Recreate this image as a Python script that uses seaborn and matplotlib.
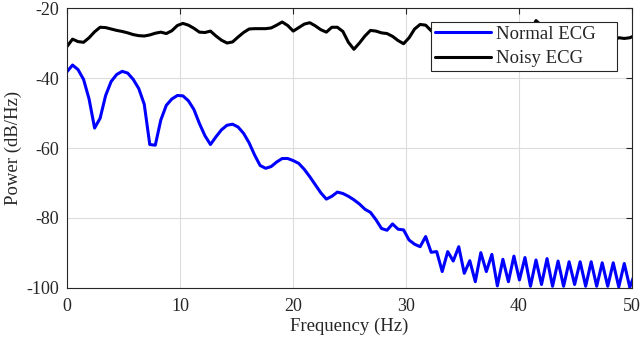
import numpy as np
import pandas as pd
import matplotlib
matplotlib.use("Agg")
import matplotlib.pyplot as plt
import seaborn as sns

# frequency bins (fs = 250 Hz, nfft = 512)
fs = 250
nfft = 512
n_bins = 104

# PSD of the clean ECG (dB/Hz), one value per bin
normal_ecg = [
    -38.2, -36.3, -37.6, -40.4, -46.0, -54.3, -51.5, -45.0, -41.0, -39.0,
    -38.1, -38.6, -40.4, -43.0, -47.5, -59.0, -59.2, -52.0, -47.8, -46.0,
    -45.0, -45.1, -46.5, -49.0, -53.0, -56.5, -59.0, -56.8, -54.8, -53.5,
    -53.2, -54.0, -55.8, -58.5, -62.0, -65.0, -65.8, -65.3, -64.0, -63.0,
    -63.0, -63.6, -64.4, -66.1, -68.2, -70.5, -72.8, -74.6, -73.8, -72.6,
    -73.0, -73.8, -74.8, -76.0, -77.5, -78.4, -80.5, -83.0, -83.5, -81.7,
    -83.2, -83.4, -86.3, -87.5, -88.2, -85.3, -89.8, -89.6, -95.3, -89.6,
    -92.3, -88.2, -95.8, -92.2, -98.2, -89.9, -95.3, -90.4, -99.4, -91.8,
    -98.2, -90.9, -97.7, -91.3, -99.5, -92.0, -99.0, -91.6, -99.5, -92.3,
    -99.5, -92.5, -99.0, -92.5, -99.5, -92.5, -99.5, -92.8, -99.5, -92.8,
    -99.7, -93.0, -99.8, -95.5,
]

# PSD of the noisy ECG (dB/Hz)
noisy_ecg = [
    -31.0, -28.9, -29.6, -29.8, -28.5, -26.8, -25.5, -25.6, -26.0, -26.4,
    -26.7, -27.1, -27.6, -27.9, -28.0, -27.7, -27.2, -26.9, -27.3, -26.5,
    -25.0, -24.4, -24.9, -25.8, -26.9, -27.0, -26.6, -28.0, -29.2, -30.0,
    -29.7, -28.3, -27.0, -26.0, -25.9, -25.9, -25.9, -25.7, -24.9, -24.0,
    -25.0, -26.6, -25.6, -24.6, -24.2, -25.1, -26.2, -26.9, -25.5, -25.5,
    -26.7, -29.8, -31.8, -30.0, -28.0, -26.4, -26.6, -27.1, -27.3, -28.1,
    -29.3, -30.2, -28.5, -26.0, -24.7, -24.9, -26.5, -27.8, -28.5, -27.0,
    -25.6, -26.2, -27.5, -28.8, -29.5, -28.0, -26.8, -25.9, -26.3, -27.4,
    -26.5, -25.2, -24.6, -25.3, -26.9, -23.6, -25.0, -26.8, -27.9, -27.1,
    -26.0, -26.6, -28.0, -29.0, -28.4, -27.2, -26.5, -27.3, -28.6, -29.3,
    -28.5, -28.7, -28.5, -27.8,
]

freq = np.arange(n_bins) * fs / nfft

df = pd.DataFrame({
    "Frequency": np.concatenate([freq, freq]),
    "Power": normal_ecg + noisy_ecg,
    "Signal": ["Normal ECG"] * n_bins + ["Noisy ECG"] * n_bins,
})

sns.set_style("whitegrid")
plt.rcParams["font.family"] = ["Liberation Serif", "DejaVu Serif"]
plt.rcParams["axes.unicode_minus"] = False

fig = plt.figure(figsize=(6.4, 3.42), dpi=100)
ax = fig.add_axes([0.1047, 0.1579, 0.8828, 0.8187])

sns.lineplot(data=df, x="Frequency", y="Power", hue="Signal",
             palette={"Normal ECG": "#0000ff", "Noisy ECG": "#000000"},
             linewidth=2.2, ax=ax)

ax.set_xlim(0, 50)
ax.set_ylim(-100, -20)
ax.set_xticks(range(0, 51, 10))
ax.set_yticks(range(-100, -19, 20))
ax.set_xlabel("Frequency (Hz)", fontsize=13.5, color="#262626", labelpad=2)
ax.set_ylabel("Power (dB/Hz)", fontsize=13.5, color="#262626", labelpad=3)

ax.grid(True, color="#dcdcdc", linewidth=0.8)
for sp in ax.spines.values():
    sp.set_visible(True)
    sp.set_color("#262626")
    sp.set_linewidth(0.8)
ax.tick_params(direction="in", length=4, width=0.8, colors="#262626",
               labelsize=13, top=True, right=True)
ax.tick_params(axis="x", pad=7)
ax.tick_params(axis="y", pad=6)

leg = ax.legend(loc="upper left", bbox_to_anchor=(0.6442, 0.5, 0.3292, 0.451),
                mode="expand", fontsize=13.5, frameon=True, fancybox=False,
                edgecolor="#262626", framealpha=1, handlelength=3.0,
                borderaxespad=0, borderpad=0.2, labelspacing=0.4,
                handletextpad=0.25)
leg.get_frame().set_linewidth(0.8)

fig.savefig("out.png", dpi=100)
